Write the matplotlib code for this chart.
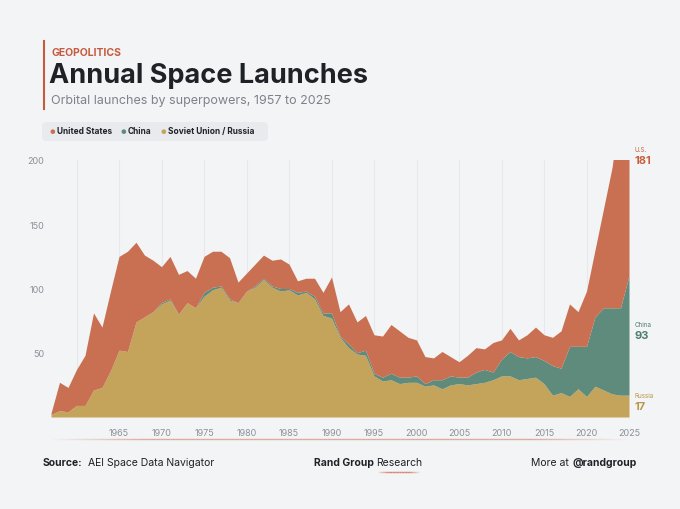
import numpy as np
import matplotlib
matplotlib.use("Agg")
import matplotlib.pyplot as plt
from matplotlib.patches import FancyBboxPatch
from matplotlib.collections import LineCollection

# launches per year
years = list(range(1957, 2026))
russia = [2, 5, 4, 9, 9, 21, 23, 36, 52, 51, 74, 78, 82, 88, 91, 80, 89, 85, 94, 99,
          101, 91, 89, 98, 101, 107, 101, 98, 99, 95, 97, 92, 79, 77, 62, 54, 49, 48, 32, 28,
          29, 26, 27, 27, 24, 25, 22, 25, 26, 25, 26, 27, 29, 32, 32, 29, 30, 31, 26, 17,
          19, 16, 22, 16, 24, 21, 18, 17, 17]
china = [0, 0, 0, 0, 0, 0, 0, 0, 0, 0, 0, 0, 0, 1, 1, 0, 0, 0, 3, 2,
         1, 1, 0, 0, 1, 1, 1, 2, 1, 2, 1, 2, 2, 4, 1, 3, 1, 4, 2, 3,
         5, 5, 4, 5, 2, 4, 7, 7, 5, 6, 9, 10, 6, 13, 19, 18, 16, 16, 18, 23,
         19, 39, 33, 39, 54, 64, 67, 68, 93]
usa = [1, 22, 19, 28, 39, 60, 47, 62, 73, 78, 62, 48, 40, 28, 33, 31, 25, 23, 28, 28,
       27, 32, 16, 14, 17, 18, 20, 23, 19, 9, 10, 14, 16, 28, 19, 31, 24, 27, 30, 32,
       38, 36, 31, 28, 21, 17, 22, 15, 12, 17, 19, 16, 23, 15, 18, 13, 18, 23, 20, 22,
       29, 33, 27, 43, 52, 77, 109, 158, 181]

series_names = ["United States", "China", "Soviet Union / Russia"]
end_names = ["U.S.", "China", "Russia"]
colors = ["#C97052", "#5E8B7C", "#C4A45B"]

bg = "#F3F4F6"
dark = "#1E2126"
gray = "#7D828A"
accent = "#C65A3E"

plt.rcParams["font.family"] = ["Inter", "DejaVu Sans"]

fig = plt.figure(figsize=(6.8, 5.1), dpi=100, facecolor=bg)
W, H = 680.0, 510.0


def fx(px):
    return px / W


def fy(py):
    return 1 - py / H


ax = fig.add_axes([fx(51), fy(418), fx(629) - fx(51), fy(161) - fy(418)])
ax.set_facecolor(bg)

x = np.array(years)
r = np.array(russia)
c = np.array(china)
u = np.array(usa)
ax.fill_between(x, 0, r, color=colors[2], lw=0, zorder=2)
ax.fill_between(x, r, r + c, color=colors[1], lw=0, zorder=2)
ax.fill_between(x, r + c, r + c + u, color=colors[0], lw=0, zorder=2)

ax.set_xlim(1957, 2025)
ax.set_ylim(0, 200)
xt = list(range(1960, 2026, 5))
ax.set_xticks(xt)
ax.set_xticklabels(["" if t == 1960 else str(t) for t in xt])
ax.set_yticks([50, 100, 150, 200])
ax.tick_params(length=0, labelsize=6.5, labelcolor="#8C9098", pad=8)
ax.tick_params(axis="y", pad=5)
ax.grid(axis="x", color="#E6E8EB", lw=0.8, zorder=0)
for s in ax.spines.values():
    s.set_visible(False)

# end labels at the middle of each band
ends = [
    (r[-1] + c[-1] + u[-1] / 2, usa[-1], "#C8603F"),
    (r[-1] + c[-1] / 2, china[-1], "#4F7F70"),
    (r[-1] / 2, russia[-1], "#B8974A"),
]
for (ymid, val, tcol), nm in zip(ends, end_names):
    ymid = min(ymid, 200)
    ax.annotate(str(val), xy=(1, ymid), xycoords=("axes fraction", "data"),
                xytext=(4, 0), textcoords="offset points", ha="left", va="center",
                fontsize=8, fontweight="bold", color=tcol, annotation_clip=False)
    ax.annotate(nm, xy=(1, ymid), xycoords=("axes fraction", "data"),
                xytext=(4, 8), textcoords="offset points", ha="left", va="center",
                fontsize=4.5, color=tcol, annotation_clip=False)

# header
fig.add_artist(plt.Line2D([fx(44), fx(44)], [fy(42), fy(110)], color=accent, lw=1.5))
fig.text(fx(51), fy(53), "GEOPOLITICS", fontsize=7.5,
         fontweight="bold", color=accent, va="center", ha="left")
fig.text(fx(49), fy(76), "Annual Space Launches", fontsize=19.5, fontweight="bold",
         color=dark, va="center", ha="left")
fig.text(fx(51), fy(101), "Orbital launches by superpowers, 1957 to 2025", fontsize=9,
         color=gray, va="center", ha="left")

# legend pill
box = FancyBboxPatch((fx(42), fy(142)), fx(268) - fx(42), fy(123) - fy(142),
                     boxstyle="round,pad=0,rounding_size=0.008", transform=fig.transFigure,
                     facecolor="#E8EAED", edgecolor="none")
fig.add_artist(box)
leg_x = [52, 123, 163]
for lx, nm, col in zip(leg_x, series_names, colors):
    fig.text(fx(lx), fy(132.5), "\u25CF", fontsize=4.5, color=col, va="center", ha="center")
    fig.text(fx(lx + 5), fy(132), nm, fontsize=6, fontweight="bold", color=dark,
             va="center", ha="left")

# faded rule under the axis
gx = np.linspace(fx(48), fx(630), 120)
segs = [[(gx[i], fy(440)), (gx[i + 1], fy(440))] for i in range(len(gx) - 1)]
t = np.linspace(0, 1, len(segs))
alph = np.clip(np.minimum(t, 1 - t) * 6, 0, 1) * 0.55
lc = LineCollection(segs, colors=[(0.79, 0.44, 0.32, a) for a in alph], lw=1,
                    transform=fig.transFigure)
fig.add_artist(lc)

# footer
fig.text(fx(43), fy(463), "Source:", fontsize=7.5, fontweight="bold", color=dark, va="center")
fig.text(fx(88), fy(463), "AEI Space Data Navigator", fontsize=7.5, color=dark, va="center")
fig.text(fx(374), fy(463), "Rand Group", fontsize=7.5, fontweight="bold", color=dark,
         va="center", ha="right")
fig.text(fx(376), fy(463), "Research", fontsize=7.5, color=dark, va="center", ha="left")
ux = np.linspace(fx(376), fx(421), 30)
usegs = [[(ux[i], fy(473)), (ux[i + 1], fy(473))] for i in range(len(ux) - 1)]
ut = np.linspace(0, 1, len(usegs))
ua = np.clip(np.minimum(ut, 1 - ut) * 4, 0, 1) * 0.8
fig.add_artist(LineCollection(usegs, colors=[(0.79, 0.40, 0.28, a) for a in ua], lw=1,
                              transform=fig.transFigure))
fig.text(fx(637), fy(463), "@randgroup", fontsize=7.5, fontweight="bold", color=dark,
         va="center", ha="right")
fig.text(fx(569), fy(463), "More at", fontsize=7.5, color=dark, va="center", ha="right")

fig.savefig("out.png", dpi=100, facecolor=bg)
